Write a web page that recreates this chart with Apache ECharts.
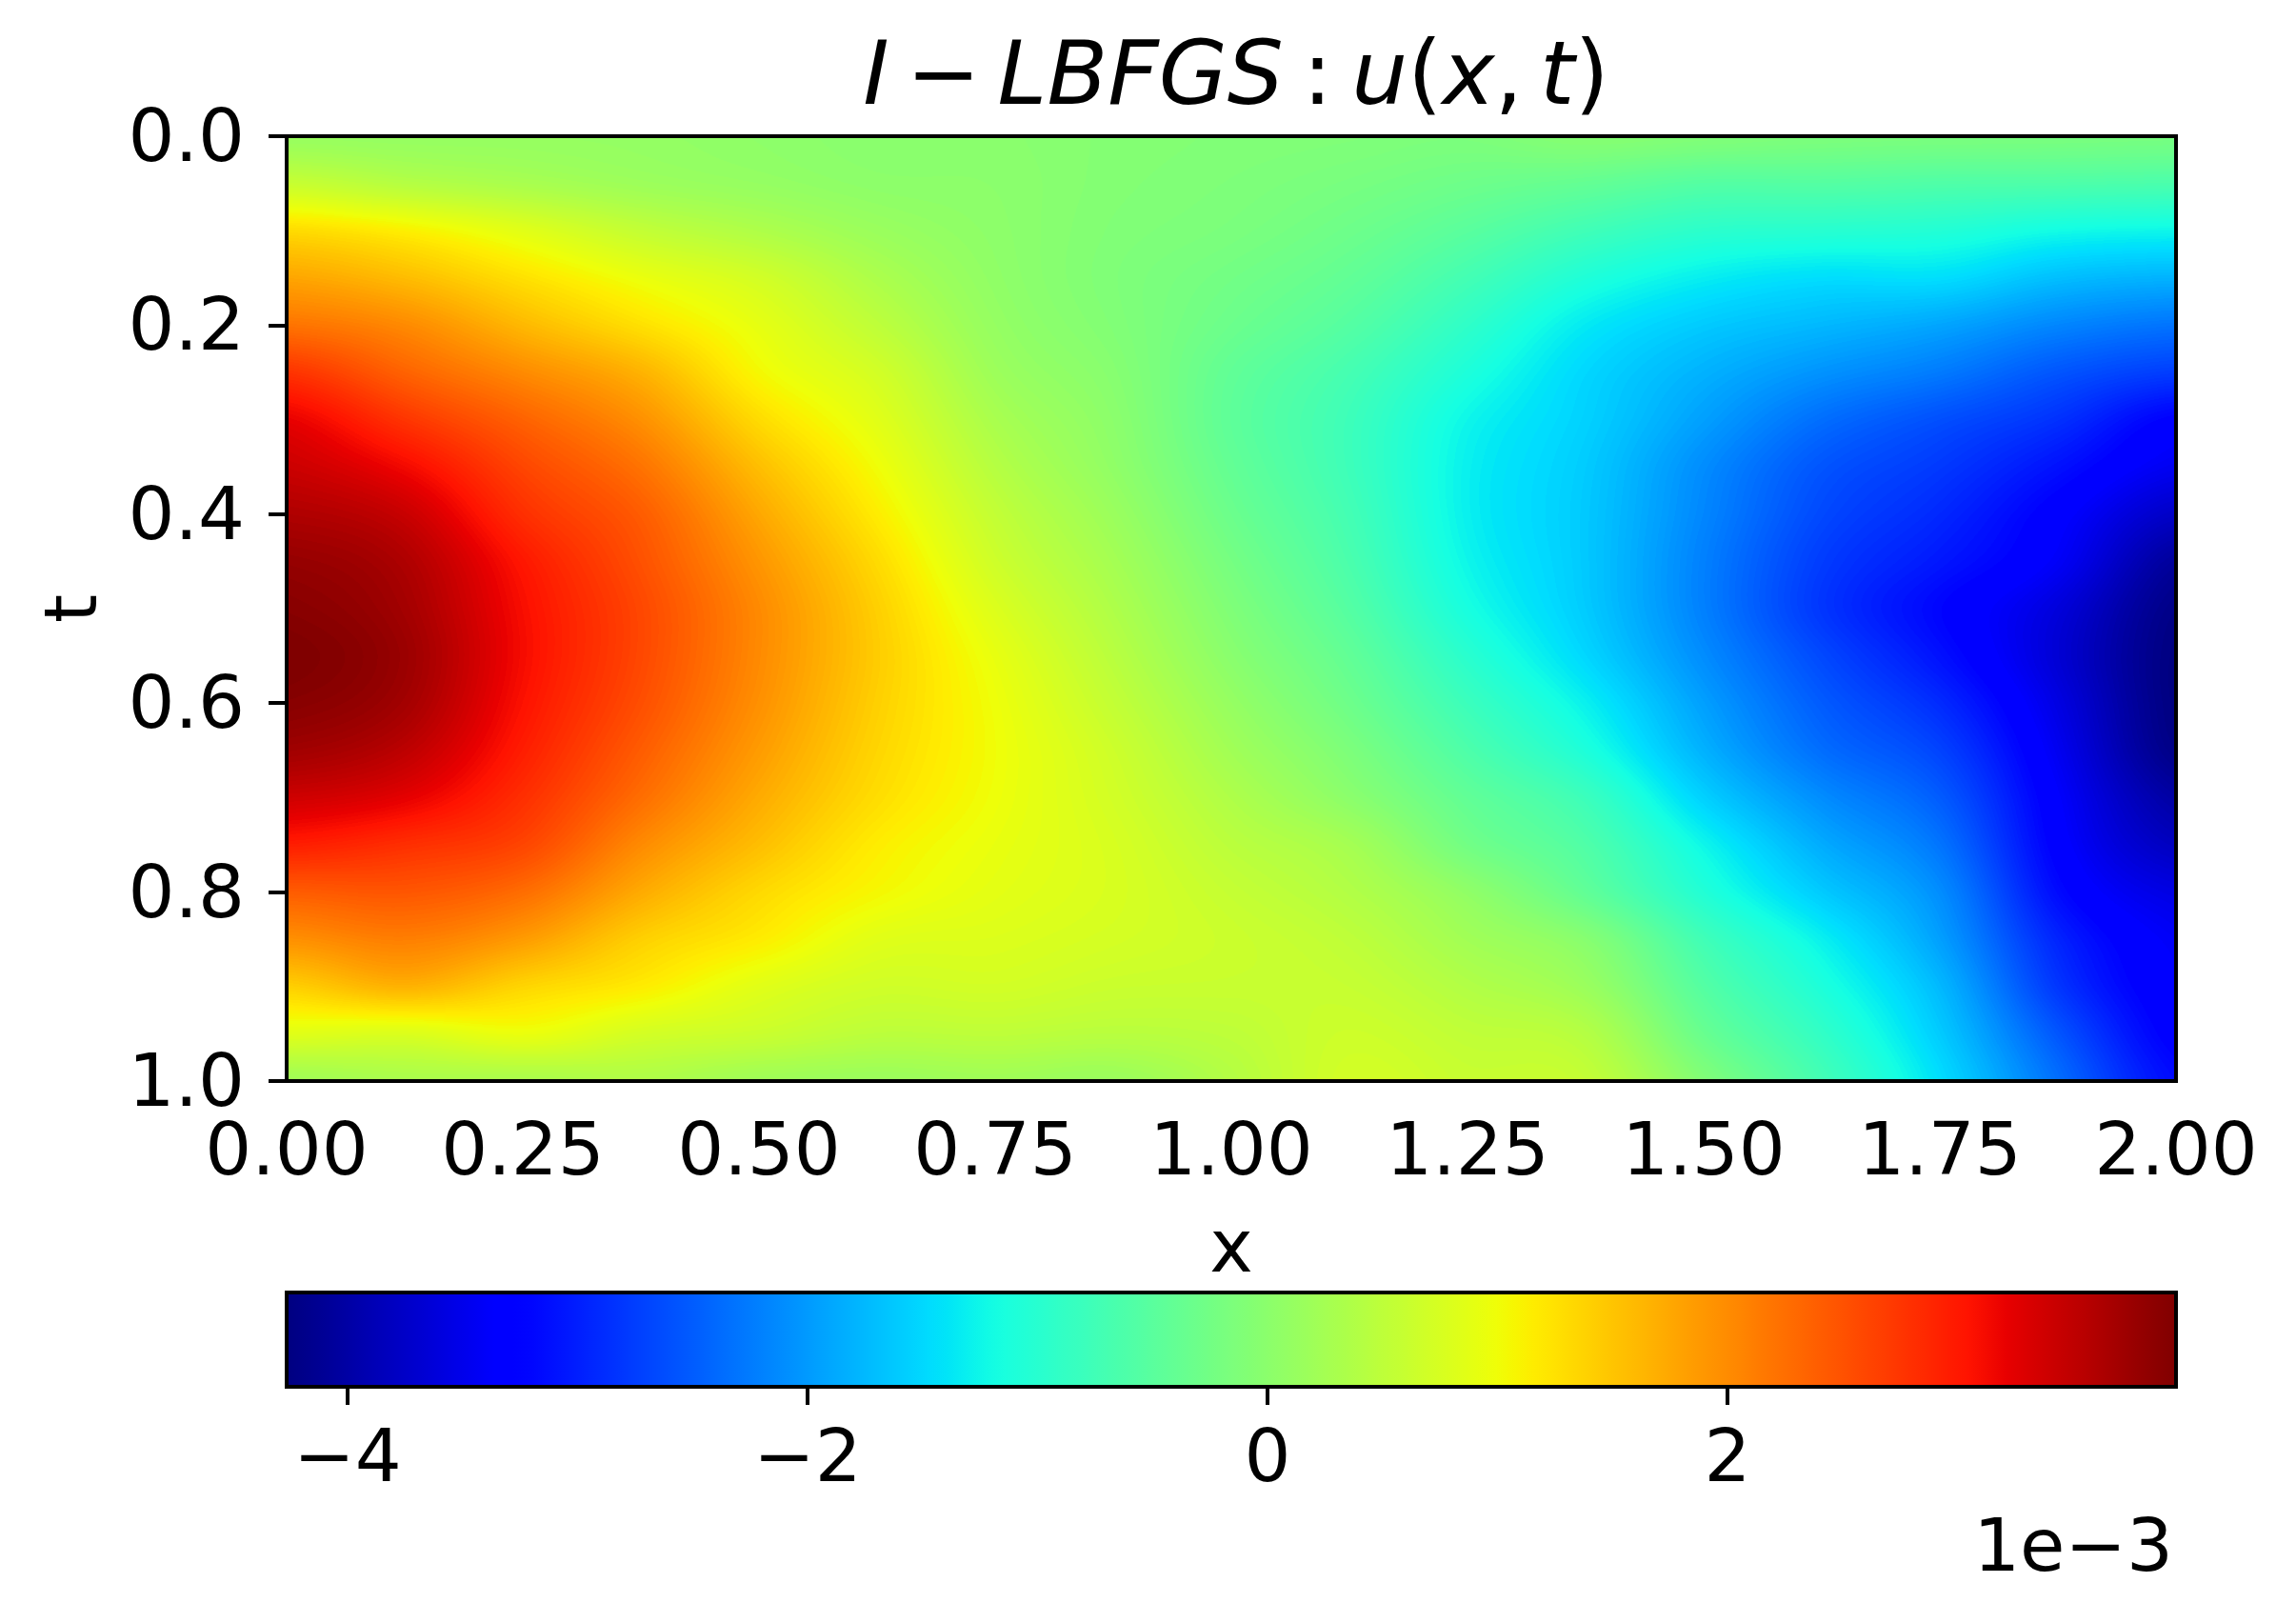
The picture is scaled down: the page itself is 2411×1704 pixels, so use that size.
<!DOCTYPE html>
<html>
<head>
<meta charset="utf-8">
<title>I-LBFGS u(x,t)</title>
<script src="https://cdn.jsdelivr.net/npm/echarts@6/dist/echarts.min.js"></script>
<style>
	html, body { margin: 0; padding: 0; background: #fff; }
	#chart { width: 2411px; height: 1704px; }
</style>
</head>
<body>
<div id="chart"></div>
<script>
	// grid nodes
	const xValues = [0, 0.125, 0.25, 0.375, 0.5, 0.625, 0.75, 0.875, 1, 1.125, 1.25, 1.375, 1.5, 1.625, 1.75, 1.875, 2];
	const tValues = [0, 0.05, 0.1, 0.15, 0.2, 0.25, 0.3, 0.35, 0.4, 0.45, 0.5, 0.55, 0.6, 0.65, 0.7, 0.75, 0.8, 0.85, 0.9, 0.95, 1];
	// u in units of 1e-3, one list per x column, top to bottom in t
	const uColumns = [
		[0.12, 0.6, 1.3, 1.77, 2.2, 2.76, 3.2, 3.4, 3.6, 3.78, 3.88, 3.95, 3.88, 3.7, 3.38, 2.95, 2.4, 1.95, 1.4, 0.85, 0.2],
		[0.1, 0.42, 1.12, 1.57, 2, 2.35, 2.75, 3.12, 3.42, 3.6, 3.68, 3.74, 3.68, 3.5, 3.22, 2.8, 2.45, 2.1, 1.65, 0.8, 0.3],
		[0.1, 0.3, 0.85, 1.25, 1.6, 2, 2.35, 2.6, 2.8, 3, 3.08, 3.1, 3.05, 2.95, 2.8, 2.6, 2.25, 1.85, 1.35, 0.95, 0.3],
		[0.08, 0.18, 0.55, 0.95, 1.25, 1.65, 1.95, 2.2, 2.4, 2.5, 2.58, 2.58, 2.52, 2.4, 2.25, 2, 1.72, 1.4, 1.15, 0.72, 0.35],
		[0.03, 0.1, 0.35, 0.7, 0.9, 1.05, 1.3, 1.55, 1.75, 1.9, 2, 2, 1.95, 1.85, 1.72, 1.55, 1.32, 1.15, 0.85, 0.62, 0.2],
		[-0.02, 0.02, 0.15, 0.33, 0.5, 0.7, 0.85, 1, 1.15, 1.3, 1.4, 1.43, 1.4, 1.35, 1.28, 1.15, 1.05, 0.85, 0.68, 0.48, 0.15],
		[-0.02, 0, 0.02, 0.05, 0.1, 0.18, 0.3, 0.42, 0.55, 0.66, 0.8, 0.92, 0.98, 1, 0.98, 0.93, 0.88, 0.8, 0.7, 0.5, 0.2],
		[-0.07, -0.08, -0.1, -0.12, -0.1, -0.05, 0, 0.05, 0.15, 0.25, 0.35, 0.45, 0.55, 0.65, 0.7, 0.75, 0.76, 0.72, 0.62, 0.45, 0.15],
		[-0.1, -0.13, -0.17, -0.25, -0.32, -0.42, -0.45, -0.4, -0.32, -0.22, -0.12, -0.02, 0.1, 0.22, 0.35, 0.47, 0.57, 0.63, 0.6, 0.5, 0.4],
		[-0.12, -0.2, -0.3, -0.42, -0.55, -0.7, -0.78, -0.78, -0.72, -0.65, -0.55, -0.42, -0.3, -0.15, 0, 0.25, 0.38, 0.5, 0.58, 0.65, 0.7],
		[-0.15, -0.3, -0.5, -0.72, -0.92, -1.1, -1.25, -1.3, -1.3, -1.25, -1.15, -0.98, -0.8, -0.62, -0.42, -0.25, 0.05, 0.22, 0.38, 0.52, 0.6],
		[-0.05, -0.4, -0.75, -1.08, -1.35, -1.5, -1.55, -1.6, -1.62, -1.62, -1.6, -1.5, -1.3, -1.1, -0.8, -0.6, -0.42, -0.05, 0.15, 0.4, 0.55],
		[-0.1, -0.55, -0.95, -1.32, -1.6, -1.8, -1.95, -2.1, -2.15, -2.2, -2.2, -2.1, -1.95, -1.8, -1.55, -1.25, -1.05, -0.75, -0.55, -0.35, -0.1],
		[-0.15, -0.55, -1, -1.45, -1.75, -2.05, -2.35, -2.55, -2.65, -2.75, -2.8, -2.65, -2.5, -2.35, -2.1, -1.85, -1.6, -1.3, -1.1, -0.9, -0.72],
		[-0.17, -0.6, -1.05, -1.45, -1.9, -2.25, -2.6, -2.78, -2.92, -3.05, -3.2, -3.1, -2.9, -2.7, -2.5, -2.3, -2.1, -1.95, -1.75, -1.6, -1.45],
		[-0.18, -0.62, -1.2, -1.7, -2.15, -2.55, -2.85, -3.1, -3.3, -3.4, -3.6, -3.65, -3.55, -3.45, -3.35, -3.28, -3.15, -2.95, -2.8, -2.55, -2.35],
		[-0.2, -0.65, -1.25, -1.8, -2.3, -2.75, -3.25, -3.45, -3.75, -4.05, -4.2, -4.25, -4.25, -4.2, -4, -3.8, -3.55, -3.4, -3.35, -3.28, -3.15]
	];
	const uMin = -4.265;
	const uMax = 3.95;
	const barTicks = [-4, -2, 0, 2];

	// jet knots, same as matplotlib
	const jetRed = [[0, 0], [0.35, 0], [0.66, 1], [0.89, 1], [1, 0.5]];
	const jetGreen = [[0, 0], [0.125, 0], [0.375, 1], [0.64, 1], [0.91, 0], [1, 0]];
	const jetBlue = [[0, 0.5], [0.11, 1], [0.34, 1], [0.65, 0], [1, 0]];

	const fontName = '"DejaVu Sans"';

	function knot(list, n) {
		for (let i = 1; i < list.length; i++) {
			if (n <= list[i][0]) {
				let a = list[i - 1], b = list[i];
				return a[1] + (b[1] - a[1]) * (n - a[0]) / (b[0] - a[0]);
			}
		}
		return list[list.length - 1][1];
	}
	const lut = [];
	const lutHex = [];
	for (let i = 0; i < 256; i++) {
		let n = i / 255;
		let c = [knot(jetRed, n), knot(jetGreen, n), knot(jetBlue, n)].map(v => Math.round(v * 255));
		lut.push(c);
		lutHex.push('rgb(' + c.join(',') + ')');
	}

	// catmull-rom weights, only used to shade between the read nodes
	function weights(f) {
		return [
			0.5 * (-f + 2 * f * f - f * f * f),
			0.5 * (2 - 5 * f * f + 3 * f * f * f),
			0.5 * (f + 4 * f * f - 3 * f * f * f),
			0.5 * (f * f * f - f * f)
		];
	}
	function node(i, j) {
		i = Math.max(0, Math.min(xValues.length - 1, i));
		j = Math.max(0, Math.min(tValues.length - 1, j));
		return uColumns[i][j];
	}

	// draw one cell, shaded from the nodes round it
	function paintCell(w, h, i, j) {
		let cv = document.createElement('canvas');
		cv.width = w;
		cv.height = h;
		let ctx = cv.getContext('2d');
		let img = ctx.createImageData(w, h);
		for (let py = 0; py < h; py++) {
			let wy = weights((py + 0.5) / h);
			for (let px = 0; px < w; px++) {
				let wx = weights((px + 0.5) / w);
				let v = 0;
				for (let a = 0; a < 4; a++) {
					for (let b = 0; b < 4; b++) {
						v += wx[a] * wy[b] * node(i + a - 1, j + b - 1);
					}
				}
				let idx = Math.floor((v - uMin) / (uMax - uMin) * 256);
				idx = Math.max(0, Math.min(255, idx));
				let c = lut[idx], o = (py * w + px) * 4;
				img.data[o] = c[0];
				img.data[o + 1] = c[1];
				img.data[o + 2] = c[2];
				img.data[o + 3] = 255;
			}
		}
		ctx.putImageData(img, 0, 0);
		return cv;
	}

	const fieldData = [];
	xValues.forEach((x, i) => {
		tValues.forEach((t, j) => {
			fieldData.push([x, t, uColumns[i][j], i, j]);
		});
	});

	function renderCell(params, api) {
		let i = api.value(3), j = api.value(4);
		if (i >= xValues.length - 1 || j >= tValues.length - 1) return null;
		let a = api.coord([xValues[i], tValues[j]]);
		let b = api.coord([xValues[i + 1], tValues[j + 1]]);
		let x0 = Math.round(a[0]), x1 = Math.round(b[0]);
		let y0 = Math.round(a[1]), y1 = Math.round(b[1]);
		return {
			type: 'image',
			silent: true,
			style: {
				image: paintCell(x1 - x0, y1 - y0, i, j),
				x: x0,
				y: y0,
				width: x1 - x0,
				height: y1 - y0
			}
		};
	}

	const axisLine = { show: false };
	const axisTick = { length: 19, lineStyle: { color: '#000', width: 4 } };
	const tickFont = { color: '#000', fontFamily: fontName, fontSize: 77 };
	const titleFont = { fontFamily: fontName, fontSize: 93, fontWeight: 'normal', color: '#000' };

	let myChart = echarts.init(document.getElementById('chart'));
	myChart.setOption({
		backgroundColor: '#fff',
		animation: false,
		title: [{
			left: 1293,
			top: 33,
			textAlign: 'center',
			text: '{it|I}{op|−}{it|LBFGS}{colon|:}{it|u}{rm|(}{it|x}{comma|,}{it|t}{rm|)}',
			textStyle: {
				fontWeight: 'normal',
				rich: {
					it: Object.assign({ fontStyle: 'italic' }, titleFont),
					rm: titleFont,
					op: Object.assign({ padding: [0, 18, 0, 18] }, titleFont),
					colon: Object.assign({ padding: [0, 20, 0, 20] }, titleFont),
					comma: Object.assign({ padding: [0, 18, 0, 0] }, titleFont)
				}
			}
		}, {
			right: 124,
			top: 1585,
			text: '1e−3',
			textStyle: { fontFamily: fontName, fontSize: 77, fontWeight: 'normal', color: '#000' }
		}],
		grid: [
			{ left: 301, top: 143, width: 1984, height: 992, show: true, z: 5, backgroundColor: 'transparent', borderColor: '#000', borderWidth: 4 },
			{ left: 301, top: 1357, width: 1984, height: 99, show: true, z: 5, backgroundColor: 'transparent', borderColor: '#000', borderWidth: 4 }
		],
		xAxis: [{
			gridIndex: 0,
			type: 'value',
			min: 0,
			max: 2,
			interval: 0.25,
			name: 'x',
			nameLocation: 'middle',
			nameGap: 141,
			nameTextStyle: tickFont,
			axisLine: axisLine,
			axisTick: axisTick,
			splitLine: { show: false },
			axisLabel: Object.assign({ margin: 39, formatter: v => v.toFixed(2) }, tickFont)
		}, {
			gridIndex: 1,
			type: 'value',
			min: uMin,
			max: uMax,
			axisLine: axisLine,
			axisTick: Object.assign({ customValues: barTicks }, axisTick),
			splitLine: { show: false },
			axisLabel: Object.assign({ margin: 40, customValues: barTicks, formatter: v => String(v).replace('-', '−') }, tickFont)
		}],
		yAxis: [{
			gridIndex: 0,
			type: 'value',
			inverse: true,
			min: 0,
			max: 1,
			interval: 0.2,
			name: 't',
			nameLocation: 'middle',
			nameGap: 182,
			nameTextStyle: tickFont,
			axisLine: axisLine,
			axisTick: axisTick,
			splitLine: { show: false },
			axisLabel: {
				margin: 44,
				formatter: v => '{v|' + v.toFixed(1) + '}',
				rich: { v: Object.assign({ padding: [12, 0, 0, 0] }, tickFont) }
			}
		}, {
			gridIndex: 1,
			type: 'value',
			min: 0,
			max: 1,
			show: false
		}],
		visualMap: {
			type: 'continuous',
			seriesIndex: 0,
			dimension: 2,
			min: uMin,
			max: uMax,
			orient: 'horizontal',
			left: 301,
			top: 1357,
			padding: 0,
			itemWidth: 99,
			itemHeight: 1984,
			calculable: false,
			hoverLink: false,
			showLabel: false,
			text: null,
			inRange: { color: lutHex }
		},
		series: [{
			type: 'custom',
			xAxisIndex: 0,
			yAxisIndex: 0,
			data: fieldData,
			renderItem: renderCell,
			encode: { x: 0, y: 1 },
			silent: true
		}]
	});
</script>
</body>
</html>
